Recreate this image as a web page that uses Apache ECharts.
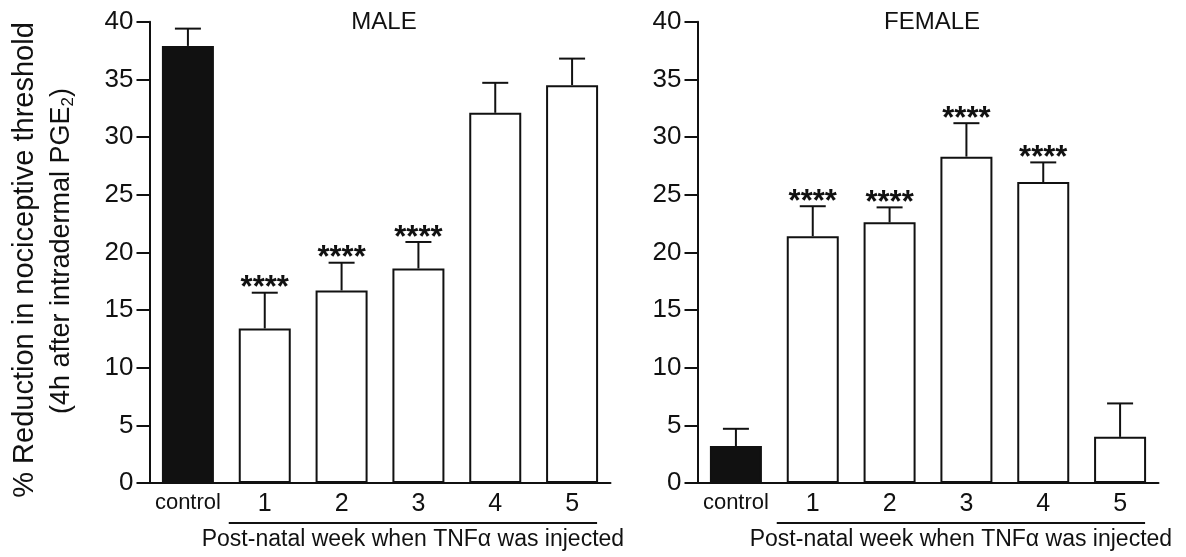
<!DOCTYPE html>
<html>
<head>
<meta charset="utf-8">
<script src="https://cdn.jsdelivr.net/npm/echarts@6/dist/echarts.min.js"></script>
<style>
html,body{margin:0;padding:0;background:#fff;}
#chart{width:1186px;height:557px;}
</style>
</head>
<body>
<div id="chart"></div>
<script>
// ---- data ----
const categories = ['control', '1', '2', '3', '4', '5'];
const maleMean   = [37.9, 13.4, 16.7, 18.6, 32.1, 34.5];
const maleUpper  = [39.4, 16.5, 19.1, 20.9, 34.7, 36.8];
const maleSig    = ['', '****', '****', '****', '', ''];
const femaleMean  = [3.2, 21.4, 22.6, 28.3, 26.1, 4.0];
const femaleUpper = [4.7, 24.0, 23.9, 31.2, 27.8, 6.9];
const femaleSig   = ['', '****', '****', '****', '****', ''];
const yMin = 0, yMax = 40, yStep = 5;
const panelTitles = ['MALE', 'FEMALE'];
const xGroupLabel = 'Post-natal week when TNF\u03b1 was injected';
const yTitle1 = '% Reduction in nociceptive threshold';
const yTitle2 = '(4h after intradermal PGE{sub|2})';

const FONT = '"Liberation Sans", Arial, Helvetica, sans-serif';
const INK = '#111';

const chart = echarts.init(document.getElementById('chart'), null, {renderer: 'canvas'});

function barData(vals) {
  return vals.map((v, i) => ({
    value: v,
    itemStyle: i === 0
      ? {color: INK, borderColor: INK, borderWidth: 2}
      : {color: '#fff', borderColor: INK, borderWidth: 2}
  }));
}

function errSeries(idx, mean, upper, sig) {
  return {
    type: 'custom',
    xAxisIndex: idx, yAxisIndex: idx,
    z: 5,
    data: mean.map((m, i) => [i, m, upper[i]]),
    renderItem: function (params, api) {
      const i = api.value(0);
      const p0 = api.coord([i, api.value(1)]);
      const p1 = api.coord([i, api.value(2)]);
      const st = {stroke: INK, lineWidth: 2};
      const children = [
        {type: 'line', shape: {x1: p0[0], y1: p0[1], x2: p1[0], y2: p1[1]}, style: st},
        {type: 'line', shape: {x1: p1[0] - 13, y1: p1[1], x2: p1[0] + 13, y2: p1[1]}, style: st}
      ];
      const s = sig[params.dataIndex];
      if (s) {
        children.push({
          type: 'text', x: p1[0], y: p1[1] - 4,
          style: {text: s, textAlign: 'center', textVerticalAlign: 'middle',
                  font: 'bold 31px ' + FONT, fill: INK}
        });
      }
      return {type: 'group', children: children};
    }
  };
}

const grids = [
  {left: 149.5, top: 21.7, width: 461, height: 461.3},
  {left: 697.5, top: 21.7, width: 461, height: 461.3}
];

function xAxisCfg(idx) {
  return {
    type: 'category', gridIndex: idx, data: categories,
    axisLine: {lineStyle: {color: INK, width: 2}},
    axisTick: {show: false},
    axisLabel: {
      margin: 9, color: INK,
      formatter: v => v === 'control' ? '{c|' + v + '}' : '{n|' + v + '}',
      rich: {
        c: {fontSize: 22, fontFamily: FONT, color: INK},
        n: {fontSize: 25, fontFamily: FONT, color: INK}
      }
    }
  };
}
function yAxisCfg(idx) {
  return {
    type: 'value', gridIndex: idx, min: yMin, max: yMax, interval: yStep,
    axisLine: {show: true, lineStyle: {color: INK, width: 2}},
    axisTick: {show: true, inside: false, length: 13, lineStyle: {color: INK, width: 2}},
    splitLine: {show: false},
    axisLabel: {margin: 16, fontSize: 26, fontFamily: FONT, color: INK}
  };
}

const option = {
  backgroundColor: '#fff',
  animation: false,
  grid: grids,
  xAxis: [xAxisCfg(0), xAxisCfg(1)],
  yAxis: [yAxisCfg(0), yAxisCfg(1)],
  series: [
    {type: 'bar', xAxisIndex: 0, yAxisIndex: 0, barWidth: 52, data: barData(maleMean)},
    {type: 'bar', xAxisIndex: 1, yAxisIndex: 1, barWidth: 52, data: barData(femaleMean)},
    errSeries(0, maleMean, maleUpper, maleSig),
    errSeries(1, femaleMean, femaleUpper, femaleSig)
  ]
};
chart.setOption(option);

// decorations positioned from the axes
const graphics = [];
[0, 1].forEach(idx => {
  const c1 = chart.convertToPixel({xAxisIndex: idx}, '1');
  const c5 = chart.convertToPixel({xAxisIndex: idx}, '5');
  const cL = chart.convertToPixel({xAxisIndex: idx}, 'control');
  const yBase = chart.convertToPixel({yAxisIndex: idx}, 0);
  const yTop = chart.convertToPixel({yAxisIndex: idx}, yMax);
  const x1 = c1 - 36, x2 = c5 + 25;
  graphics.push({
    type: 'line', shape: {x1: x1, y1: yBase + 40, x2: x2, y2: yBase + 40},
    style: {stroke: INK, lineWidth: 2}
  });
  graphics.push({
    type: 'text', x: (x1 + x2) / 2 + 0, y: yBase + 57,
    style: {text: xGroupLabel, textAlign: 'center', textVerticalAlign: 'middle',
            font: '23px ' + FONT, fill: INK}
  });
  const axisX = cL - (c5 - cL) / 10;
  graphics.push({
    type: 'text', x: axisX + 234.5, y: yTop + 1,
    style: {text: panelTitles[idx], textAlign: 'center', textVerticalAlign: 'middle',
            font: '24px ' + FONT, fill: INK}
  });
});
graphics.push({
  type: 'text', x: 25, y: 260, rotation: Math.PI / 2,
  style: {
    text: yTitle1, textAlign: 'center', textVerticalAlign: 'middle',
    font: '29px ' + FONT, fill: INK
  }
});
graphics.push({
  type: 'text', x: 62, y: 251, rotation: Math.PI / 2,
  style: {
    text: yTitle2, textAlign: 'center', textVerticalAlign: 'middle',
    font: '27px ' + FONT, fill: INK,
    rich: {sub: {fontSize: 17, fontFamily: FONT, fill: INK, padding: [12, 0, 0, 0]}}
  }
});
chart.setOption({graphic: graphics});
</script>
</body>
</html>
